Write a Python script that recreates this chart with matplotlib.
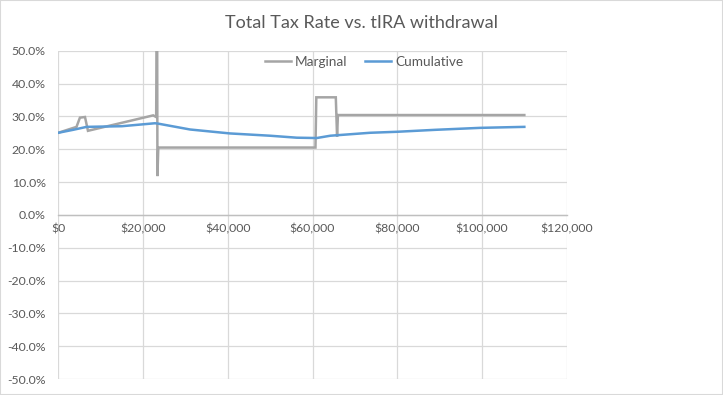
import numpy as np
import matplotlib
matplotlib.use("Agg")
import matplotlib.pyplot as plt
from matplotlib.patches import Rectangle
from matplotlib.ticker import FuncFormatter, MultipleLocator

# withdrawal amounts ($) and tax rates (%)
marg_x = [0, 4300, 5100, 6300, 7000, 22400, 23100, 23300, 23400, 23600,
          60700, 60900, 65500, 65800, 66000, 110000]
marg_y = [25.0, 26.8, 29.6, 29.8, 25.6, 30.3, 29.8, 80.0, 11.8, 20.5,
          20.5, 35.8, 35.8, 23.8, 30.4, 30.4]

cum_x = [0, 3500, 6700, 15000, 22800, 23500, 31100, 40500, 50000, 56300,
         61000, 64200, 73600, 79900, 89000, 99600, 110000]
cum_y = [25.0, 25.9, 26.8, 27.0, 27.9, 27.8, 26.0, 24.8, 24.1, 23.5,
         23.4, 24.1, 25.0, 25.3, 25.9, 26.5, 26.8]

title = "Total Tax Rate vs. tIRA withdrawal"
font = "Lato"
txt_col = "#595959"
grid_col = "#D9D9D9"

fig = plt.figure(figsize=(7.23, 3.95), dpi=100)
ax = fig.add_axes([58.3 / 723, 16 / 395, (566.7 - 58.3) / 723, (379 - 50.7) / 395])

ax.plot(marg_x, marg_y, color="#A5A5A5", lw=1.8, label="Marginal", solid_joinstyle="miter")
ax.plot(cum_x, cum_y, color="#5B9BD5", lw=1.8, label="Cumulative")

ax.set_xlim(0, 120000)
ax.set_ylim(-50, 50)
ax.xaxis.set_major_locator(MultipleLocator(20000))
ax.yaxis.set_major_locator(MultipleLocator(10))
ax.xaxis.set_major_formatter(FuncFormatter(lambda v, p: f"${v:,.0f}"))
ax.yaxis.set_major_formatter(FuncFormatter(lambda v, p: f"{v:.1f}%"))

ax.grid(True, color=grid_col, lw=0.9)
ax.set_axisbelow(True)
for s in ["top", "right", "left"]:
    ax.spines[s].set_visible(False)
ax.spines["bottom"].set_position(("data", 0))
ax.spines["bottom"].set_color("#BFBFBF")
ax.spines["bottom"].set_linewidth(1.0)

ax.tick_params(axis="both", length=0, labelcolor=txt_col, labelsize=8.8)
ax.tick_params(axis="x", pad=6)
ax.tick_params(axis="y", pad=9)
for lab in ax.get_xticklabels() + ax.get_yticklabels():
    lab.set_fontfamily(font)

fig.text(361.5 / 723, 1 - 23 / 395, title, ha="center", va="center",
         fontsize=13, color=txt_col, family=font)

leg = fig.legend(loc="center", bbox_to_anchor=(364 / 723, 1 - 62 / 395), ncol=2,
                 frameon=False, handlelength=1.9, handletextpad=0.3, columnspacing=1.3,
                 prop={"family": font, "size": 9.8})
for t in leg.get_texts():
    t.set_color(txt_col)

fig.patches.append(Rectangle((0, 0), 1, 1, transform=fig.transFigure, fill=False,
                             edgecolor=grid_col, lw=1.5))

fig.savefig("out.png", dpi=100)
